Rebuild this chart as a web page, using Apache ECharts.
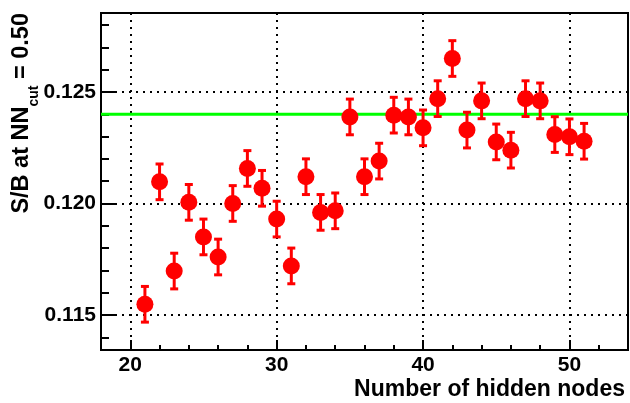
<!DOCTYPE html>
<html>
<head>
<meta charset="utf-8">
<script src="https://cdn.jsdelivr.net/npm/echarts@6/dist/echarts.min.js"></script>
<style>
  html, body { margin: 0; padding: 0; background: #fff; }
  #chart { width: 630px; height: 403px; }
</style>
</head>
<body>
<div id="chart"></div>
<script>
// Signal-to-background ratio at a fixed network cut, per hidden-layer size
const hiddenNodes = [21, 22, 23, 24, 25, 26, 27, 28, 29, 30,
                     31, 32, 33, 34, 35, 36, 37, 38, 39, 40,
                     41, 42, 43, 44, 45, 46, 47, 48, 49, 50, 51];
const sbRatio = [0.11548, 0.12097, 0.11697, 0.12005, 0.11850, 0.11760, 0.12000, 0.12157, 0.12068, 0.11930,
                 0.11720, 0.12120, 0.11960, 0.11967, 0.12388, 0.12120, 0.12190, 0.12396, 0.12388, 0.12339,
                 0.12470, 0.12650, 0.12329, 0.12460, 0.12276, 0.12239, 0.12470, 0.12460, 0.12309, 0.12299, 0.12279];
const sbError = [0.0008, 0.0008, 0.0008, 0.0008, 0.0008, 0.0008, 0.0008, 0.0008, 0.0008, 0.0008,
                 0.0008, 0.0008, 0.0008, 0.0008, 0.0008, 0.0008, 0.0008, 0.0008, 0.0008, 0.0008,
                 0.0008, 0.0008, 0.0008, 0.0008, 0.0008, 0.0008, 0.0008, 0.0008, 0.0008, 0.0008, 0.0008];
const referenceLevel = 0.124;

// Axis ranges and tick positions
const xRange = [18, 54];
const yRange = [0.11343, 0.12854];
const xMajorTicks = [20, 30, 40, 50];
const xMinorTicks = [22, 24, 26, 28, 32, 34, 36, 38, 42, 44, 46, 48, 52];
const yMajorTicks = [0.115, 0.120, 0.125];
const yMinorTicks = [0.114, 0.116, 0.117, 0.118, 0.119, 0.121, 0.122, 0.123, 0.124, 0.126, 0.127, 0.128];

// Axis titles (y title is split around its subscript)
const xTitle = 'Number of hidden nodes';
const yTitleParts = ['S/B at NN', 'cut', ' = 0.50'];

const FONT = 'Liberation Sans, Arial, Helvetica, sans-serif';
const RED = '#ff0000';
const TITLE_FONT = 'bold 23.5px ' + FONT;
const SUB_FONT = 'bold 14px ' + FONT;

const points = hiddenNodes.map((n, i) => [n, sbRatio[i], sbError[i]]);

const tickStyle = { color: '#000', width: 2 };
const labelStyle = { fontSize: 21, fontWeight: 'bold', fontFamily: FONT, color: '#000' };
const gridDots = { show: true, lineStyle: { color: '#000', width: 2, type: [2, 5] } };

// Measure text advances so the rotated title pieces can be chained end to end
const measureCtx = document.createElement('canvas').getContext('2d');
function textWidth(str, font) {
  measureCtx.font = font;
  return measureCtx.measureText(str).width;
}

// Rotated (bottom-to-top) title: pieces are laid out from the top end downward
const titleTopY = 13;
const mainMidX = 22;
const subMidX = 34;
const wTail = textWidth(yTitleParts[2], TITLE_FONT);
const wSub = textWidth(yTitleParts[1], SUB_FONT);
function rotatedText(text, font, x, yEnd) {
  return {
    type: 'text', x: x, y: yEnd, rotation: Math.PI / 2,
    style: { text: text, font: font, fill: '#000', align: 'right', verticalAlign: 'middle' }
  };
}

const chart = echarts.init(document.getElementById('chart'), null, { renderer: 'canvas' });

chart.setOption({
  animation: false,
  backgroundColor: '#fff',
  grid: {
    left: 101, right: 2, top: 13, bottom: 53,
    outerBoundsMode: 'none',
    containLabel: false,
    show: true, borderColor: '#000', borderWidth: 2, backgroundColor: 'transparent'
  },
  xAxis: [
    {
      type: 'value', min: xRange[0], max: xRange[1], position: 'bottom',
      axisLine: { show: true, onZero: false, lineStyle: tickStyle },
      axisTick: { show: true, inside: true, length: 10, customValues: xMajorTicks, lineStyle: tickStyle },
      axisLabel: Object.assign({ customValues: xMajorTicks, margin: 5 }, labelStyle),
      splitLine: gridDots
    },
    {
      type: 'value', min: xRange[0], max: xRange[1], position: 'bottom',
      axisLine: { show: false, onZero: false },
      axisTick: { show: true, inside: true, length: 5, customValues: xMinorTicks, lineStyle: tickStyle },
      axisLabel: { show: false },
      splitLine: { show: false }
    }
  ],
  yAxis: [
    {
      type: 'value', min: yRange[0], max: yRange[1], position: 'left',
      axisLine: { show: true, onZero: false, lineStyle: tickStyle },
      axisTick: { show: true, inside: true, length: 16, customValues: yMajorTicks, lineStyle: tickStyle },
      axisLabel: Object.assign({
        customValues: yMajorTicks, margin: 5,
        formatter: v => v.toFixed(3)
      }, labelStyle),
      splitLine: gridDots
    },
    {
      type: 'value', min: yRange[0], max: yRange[1], position: 'left',
      axisLine: { show: false, onZero: false },
      axisTick: { show: true, inside: true, length: 8, customValues: yMinorTicks, lineStyle: tickStyle },
      axisLabel: { show: false },
      splitLine: { show: false }
    }
  ],
  graphic: [
    {
      // x-axis title, right-aligned under the axis end
      type: 'text',
      x: 625, y: 390,
      style: {
        text: xTitle,
        align: 'right',
        verticalAlign: 'middle',
        font: 'bold 23px ' + FONT,
        fill: '#000'
      }
    },
    rotatedText(yTitleParts[2], TITLE_FONT, mainMidX, titleTopY),
    rotatedText(yTitleParts[1], SUB_FONT, subMidX, titleTopY + wTail),
    rotatedText(yTitleParts[0], TITLE_FONT, mainMidX, titleTopY + wTail + wSub)
  ],
  series: [
    {
      // horizontal reference level across the full range
      type: 'line',
      xAxisIndex: 0, yAxisIndex: 0,
      data: [[xRange[0], referenceLevel], [xRange[1], referenceLevel]],
      showSymbol: false,
      lineStyle: { color: '#00ff00', width: 3 },
      silent: true,
      z: 2
    },
    {
      // vertical error bars with end caps
      type: 'custom',
      xAxisIndex: 0, yAxisIndex: 0,
      data: points,
      z: 3,
      silent: true,
      renderItem: (params, api) => {
        const x = api.value(0), y = api.value(1), e = api.value(2);
        const top = api.coord([x, y + e]);
        const bot = api.coord([x, y - e]);
        const hw = 4;
        const st = { stroke: RED, lineWidth: 3 };
        return {
          type: 'group',
          children: [
            { type: 'line', shape: { x1: top[0], y1: top[1], x2: bot[0], y2: bot[1] }, style: st },
            { type: 'line', shape: { x1: top[0] - hw, y1: top[1], x2: top[0] + hw, y2: top[1] }, style: st },
            { type: 'line', shape: { x1: bot[0] - hw, y1: bot[1], x2: bot[0] + hw, y2: bot[1] }, style: st }
          ]
        };
      }
    },
    {
      type: 'scatter',
      xAxisIndex: 0, yAxisIndex: 0,
      data: points.map(p => [p[0], p[1]]),
      symbol: 'circle',
      symbolSize: 17,
      itemStyle: { color: RED, opacity: 1 },
      z: 4,
      silent: true
    }
  ]
});
</script>
</body>
</html>
